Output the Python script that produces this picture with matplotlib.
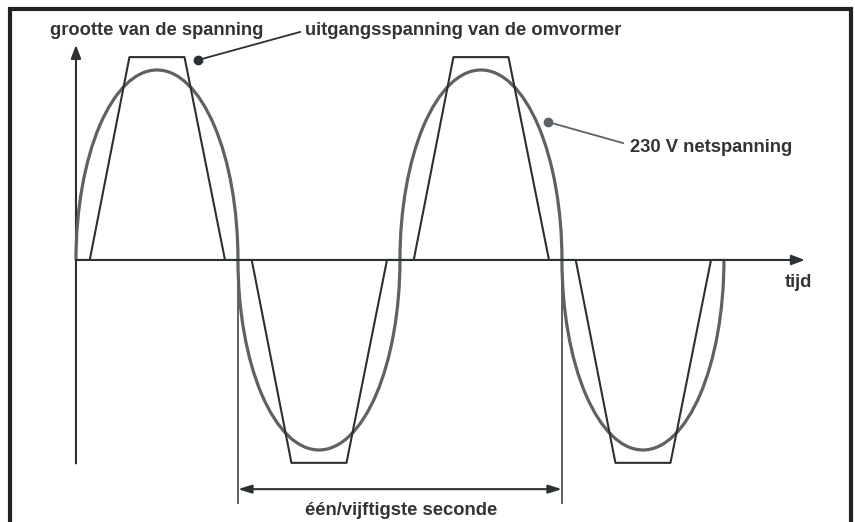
import matplotlib.pyplot as plt
from matplotlib.patches import Arc, Rectangle

# net voltage: 230 V rms, drawn as rounded half waves (peak, half period)
net_peak = 325.0             # V
half_period = 10.0           # ms
half_wave_starts = [0.0, 10.0, 20.0, 30.0]
half_wave_sign = [1, -1, 1, -1]

# inverter output (modified sine), corner points
trap_t = [0.0, 0.85, 3.3, 6.7, 9.2,
          10.85, 13.3, 16.7, 19.2,
          20.85, 23.3, 26.7, 29.2,
          30.85, 33.3, 36.7, 39.2, 40.0]
trap_v = [0, 0, 347, 347, 0,
          0, -347, -347, 0,
          0, 347, 347, 0,
          0, -347, -347, 0, 0]

# one-fiftieth second marker
mark_start, mark_end = 10.0, 30.0

labels = {
    "y": "grootte van de spanning",
    "out": "uitgangsspanning van de omvormer",
    "net": "230 V netspanning",
    "x": "tijd",
    "period": "één/vijftigste seconde",
}

W, H = 855, 522
dark = "#2b3033"
grey = "#5d6266"
txt = "#333333"

fig = plt.figure(figsize=(W / 100, H / 100), dpi=100)
ax = fig.add_axes([0, 0, 1, 1])
ax.set_xlim(-4.69, 48.09)
ax.set_ylim(-448.2, 444.7)
ax.axis("off")

# axes with arrows
arrow = dict(arrowstyle="-|>,head_length=0.8,head_width=0.3", color=dark,
             lw=1.5, shrinkA=0, shrinkB=0)
ax.annotate("", xy=(0, 368), xytext=(0, -348), arrowprops=arrow)
ax.annotate("", xy=(45, 0), xytext=(0, 0), arrowprops=arrow)

# net voltage half waves
for start, sign in zip(half_wave_starts, half_wave_sign):
    th1, th2 = (0, 180) if sign > 0 else (180, 360)
    ax.add_patch(Arc((start + half_period / 2, 0), half_period, 2 * net_peak,
                     theta1=th1, theta2=th2, color=grey, lw=2.3, zorder=3))

# modified sine
ax.plot(trap_t, trap_v, color=dark, lw=1.5, zorder=4)

# period dimension
ax.plot([mark_start, mark_start], [0, -416], color=grey, lw=1.4)
ax.plot([mark_end, mark_end], [0, -416], color=grey, lw=1.4)
ax.annotate("", xy=(mark_end, -392), xytext=(mark_start, -392),
            arrowprops=dict(arrowstyle="<|-|>,head_length=0.8,head_width=0.25",
                            color=dark, lw=1.5, shrinkA=0, shrinkB=0))

# leader lines with dots
ax.plot([7.53, 13.83], [342, 390], color=dark, lw=1.3)
ax.plot([7.53], [342], "o", color=dark, ms=6)
ax.plot([29.14, 33.77], [236, 200], color=grey, lw=1.3)
ax.plot([29.14], [236], "o", color=grey, ms=6)


def px(x, y):
    return x / W, 1 - y / H


font = dict(family=["Liberation Sans", "DejaVu Sans"], weight="bold",
            fontsize=13.2, color=txt)
fig.text(*px(50, 35), labels["y"], ha="left", va="baseline", **font)
fig.text(*px(305, 35), labels["out"], ha="left", va="baseline", **font)
fig.text(*px(630, 152), labels["net"], ha="left", va="baseline", **font)
fig.text(*px(785, 287), labels["x"], ha="left", va="baseline", **font)
fig.text(*px(401, 515), labels["period"], ha="center", va="baseline", **font)

# frame
fig.patches.append(Rectangle((10 / W, -0.1), (851 - 10) / W, 1.1 - 9 / H,
                             transform=fig.transFigure, fill=False,
                             edgecolor="#222222", lw=3))

fig.savefig("out.png", dpi=100)
